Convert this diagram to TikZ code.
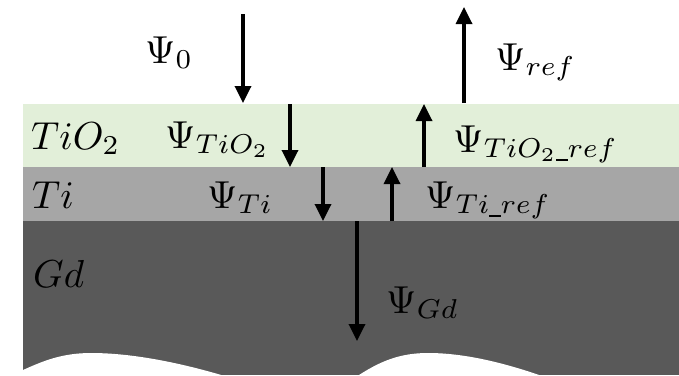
\documentclass[tikz,border=0pt]{standalone}
\usepackage{graphicx}
\usepackage{amsmath}
\usetikzlibrary{arrows.meta}
\definecolor{tiocol}{HTML}{E2EFD9}
\definecolor{ticol}{HTML}{A6A6A6}
\definecolor{gdcol}{HTML}{595959}
\newcommand{\lbl}[1]{\scalebox{3.9}{$#1$}}
\newcommand{\usc}{\text{\rule[-0.12em]{0.42em}{0.06em}}}
\begin{document}
\begin{tikzpicture}[x=1pt,y=-1pt,
  lab/.style={inner sep=0pt, anchor=base west},
  ray/.style={line width=3.4pt, -{Triangle[length=17pt,width=16pt]}}]
\useasboundingbox (0,0) rectangle (679,375);
\fill[white] (0,0) rectangle (679,375);
% layers
\fill[tiocol] (23,104) rectangle (679,167);
\fill[ticol] (23,167) rectangle (679,221);
\fill[gdcol] (23,221) rectangle (679,375);
% wavy bottom
\fill[white] (23,370) .. controls (43,361) and (62,353) .. (91,353)
  .. controls (135,353) and (185,364) .. (228,377) -- (23,377) -- cycle;
\fill[white] (356,377) .. controls (380,361) and (400,353) .. (428,353)
  .. controls (465,353) and (505,363) .. (545,377) -- cycle;
% labels
\node[lab] (ltio) at (31,149) {\lbl{TiO_2}};
\node[lab] (lti) at (32,208) {\lbl{Ti}};
\node[lab] (lgd) at (33,287) {\lbl{Gd}};
\node[lab] (p0) at (145,63) {\lbl{\Psi_0}};
\node[lab] (pref) at (495,70) {\lbl{\Psi_{ref}}};
\node[lab] (ptio) at (165,148) {\lbl{\Psi_{TiO_2}}};
\node[lab] (ptioref) at (453,152) {\lbl{\Psi_{TiO_2\usc ref}}};
\node[lab] (pti) at (207,208) {\lbl{\Psi_{Ti}}};
\node[lab] (ptiref) at (425,208) {\lbl{\Psi_{Ti\usc ref}}};
\node[lab] (pgd) at (386,313) {\lbl{\Psi_{Gd}}};
% arrow ends
\coordinate (a0s) at (243,14);  \coordinate (a0e) at (243,103);
\coordinate (ars) at (464,103); \coordinate (are) at (464,7);
\coordinate (a1s) at (290,104); \coordinate (a1e) at (290,167);
\coordinate (b1s) at (424,167); \coordinate (b1e) at (424,104);
\coordinate (a2s) at (323,167); \coordinate (a2e) at (323,221);
\coordinate (b2s) at (392,221); \coordinate (b2e) at (392,167);
\coordinate (a3s) at (357,221); \coordinate (a3e) at (357,341);
\draw[ray] (a0s) -- (a0e);
\draw[ray] (ars) -- (are);
\draw[ray] (a1s) -- (a1e);
\draw[ray] (b1s) -- (b1e);
\draw[ray] (a2s) -- (a2e);
\draw[ray] (b2s) -- (b2e);
\draw[ray] (a3s) -- (a3e);
\end{tikzpicture}
\end{document}
